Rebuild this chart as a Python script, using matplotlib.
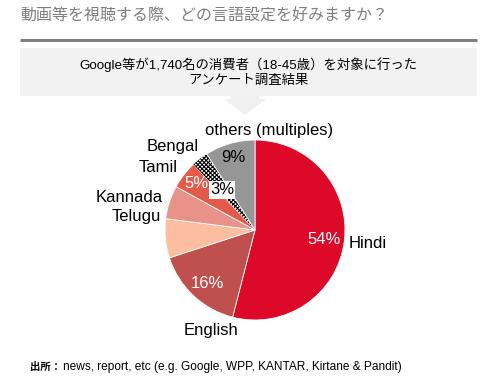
import matplotlib.pyplot as plt
from matplotlib.patches import Rectangle, Polygon

plt.rcParams["font.family"] = ["Liberation Sans", "Noto Sans CJK JP", "DejaVu Sans"]
plt.rcParams["hatch.linewidth"] = 0.8
jp = ["Noto Sans CJK JP", "DejaVu Sans"]

# Daten (Anteil in %, im Uhrzeigersinn ab 12 Uhr)
languages = ["Hindi", "English", "Telugu", "Kannada", "Tamil", "Bengal", "others (multiples)"]
shares = [54, 16, 7, 6, 5, 3, 9]
colors = ["#DC0A28", "#C0504D", "#FDBDA0", "#E8928A", "#E35A4A", "white", "#969696"]

title = "動画等を視聴する際、どの言語設定を好みますか？"
box_text = "Google等が1,740名の消費者（18-45歳）を対象に行った\nアンケート調査結果"
source_label = "出所："
source_text = "news, report, etc (e.g. Google, WPP, KANTAR, Kirtane & Pandit)"

W, H = 492, 387
fig = plt.figure(figsize=(W / 100, H / 100), dpi=100)
ax = fig.add_axes([0, 0, 1, 1])

def Y(y):
    # Pixelkoordinate von oben -> Achsenkoordinate
    return H - y

ax.text(20, Y(16), title, family=jp, fontsize=11.5, color="#7F7F7F", va="center", ha="left")
ax.plot([20, 477], [Y(40), Y(40)], color="#808080", lw=2.2, solid_capstyle="butt")
ax.add_patch(Rectangle((20, Y(96)), 457, 48, facecolor="#F2F2F2", edgecolor="none"))
ax.text(248, Y(72), box_text, family=["Liberation Sans", "Noto Sans CJK JP"], fontsize=9.6,
        ha="center", va="center", linespacing=1.25, color="black")
ax.add_patch(Polygon([(231, Y(96)), (259, Y(96)), (259, Y(99)), (266, Y(99)), (245, Y(115)),
                      (224, Y(99)), (231, Y(99))], closed=True, facecolor="#F0F0F0", edgecolor="none"))

cx, cy, r = 255, Y(230), 90
wedges, _ = ax.pie(shares, colors=colors, startangle=90, counterclock=False, center=(cx, cy),
                   radius=r, wedgeprops=dict(edgecolor="white", linewidth=0.6), frame=True)
wedges[5].set_hatch("xxxxxxxx")
wedges[5].set_edgecolor("black")
wedges[5].set_linewidth(0)
ax.set_xlim(0, W)
ax.set_ylim(0, H)
ax.set_aspect("equal")
ax.axis("off")

fs = 12
# Prozentwerte
ax.text(324, Y(240), f"{shares[0]}%", color="white", fontsize=fs, ha="center", va="center")
ax.text(207, Y(283), f"{shares[1]}%", color="white", fontsize=fs, ha="center", va="center")
ax.text(196, Y(184), f"{shares[4]}%", color="white", fontsize=fs, ha="center", va="center")
ax.text(222, Y(190), f"{shares[5]}%", color="black", fontsize=fs, ha="center", va="center",
        bbox=dict(facecolor="white", edgecolor="none", pad=1))
ax.text(233, Y(158), f"{shares[6]}%", color="black", fontsize=fs, ha="center", va="center")

# Beschriftungen
ax.text(349, Y(243), languages[0], fontsize=fs, ha="left", va="center")
ax.text(211, Y(330), languages[1], fontsize=fs, ha="center", va="center")
ax.text(161, Y(217), languages[2], fontsize=fs, ha="right", va="center")
ax.text(163, Y(198), languages[3], fontsize=fs, ha="right", va="center")
ax.text(178, Y(167), languages[4], fontsize=fs, ha="right", va="center")
ax.text(199, Y(147), languages[5], fontsize=fs, ha="right", va="center")
ax.text(269, Y(131), languages[6], fontsize=fs, ha="center", va="center")

ax.text(30, Y(367), source_label, family=jp, fontsize=7.5, fontweight="bold", ha="left", va="center")
ax.text(63, Y(367), source_text, fontsize=8.6, ha="left", va="center")

fig.savefig("out.png", dpi=100)
